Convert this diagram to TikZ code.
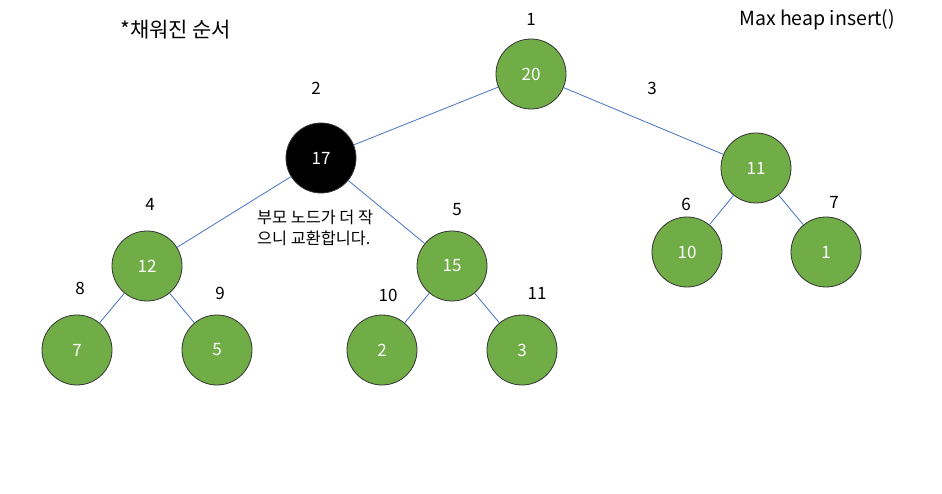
\documentclass[tikz,border=0pt]{standalone}
\usepackage{fontspec}
\setmainfont{Noto Sans CJK KR}
\begin{document}
\begin{tikzpicture}[x=1pt,y=-1pt,
  heapnode/.style={circle,draw=black!80,line width=0.8pt,fill=heapgreen,minimum size=70pt,inner sep=0pt,text=white,font=\fontsize{17}{19}\selectfont},
  hot/.style={heapnode,fill=black},
  idx/.style={font=\fontsize{17}{19}\selectfont,text=black},
  link/.style={draw=linkblue,line width=0.8pt},
  note/.style={font=\fontsize{16.3}{19}\selectfont,text=black}]
\definecolor{heapgreen}{HTML}{70AD47}
\definecolor{linkblue}{HTML}{4472C4}
\fill[white] (0,0) rectangle (942,494);
\useasboundingbox (0,0) rectangle (942,494);
% tree nodes
\node[heapnode] (n20) at (531,74) {20};
\node[hot] (n17) at (321,158) {17};
\node[heapnode] (n11) at (756,168) {11};
\node[heapnode] (n12) at (147,266) {12};
\node[heapnode] (n15) at (452,266) {15};
\node[heapnode] (n10) at (687,252) {10};
\node[heapnode] (n1) at (826,252) {1};
\node[heapnode] (n7) at (77,350) {7};
\node[heapnode] (n5) at (217,350) {5};
\node[heapnode] (n2) at (382,350) {2};
\node[heapnode] (n3) at (522,350) {3};
% edges
\draw[link] (n20) -- (n17);
\draw[link] (n20) -- (n11);
\draw[link] (n17) -- (n12);
\draw[link] (n17) -- (n15);
\draw[link] (n11) -- (n10);
\draw[link] (n11) -- (n1);
\draw[link] (n12) -- (n7);
\draw[link] (n12) -- (n5);
\draw[link] (n15) -- (n2);
\draw[link] (n15) -- (n3);
% fill order indices
\node[idx] (i1) at (531,19) {1};
\node[idx] (i2) at (316,88) {2};
\node[idx] (i3) at (652,88) {3};
\node[idx] (i4) at (150,204) {4};
\node[idx] (i5) at (457,210) {5};
\node[idx] (i6) at (686,204) {6};
\node[idx] (i7) at (834,202) {7};
\node[idx] (i8) at (80,288) {8};
\node[idx] (i9) at (220,293) {9};
\node[idx] (i10) at (388,295) {10};
\node[idx] (i11) at (537,293) {11};
% captions
\node[note,font=\fontsize{21}{24}\selectfont,anchor=west,inner sep=0pt] (order) at (120,30) {*채워진 순서};
\node[note,font=\fontsize{19.5}{22}\selectfont,anchor=west,inner sep=0pt] (title) at (739,20) {Max heap insert()};
\node[note,anchor=north west,align=left,inner sep=0pt] (swap) at (257,210) {부모 노드가 더 작\\[2pt]으니 교환합니다.};
\end{tikzpicture}
\end{document}
